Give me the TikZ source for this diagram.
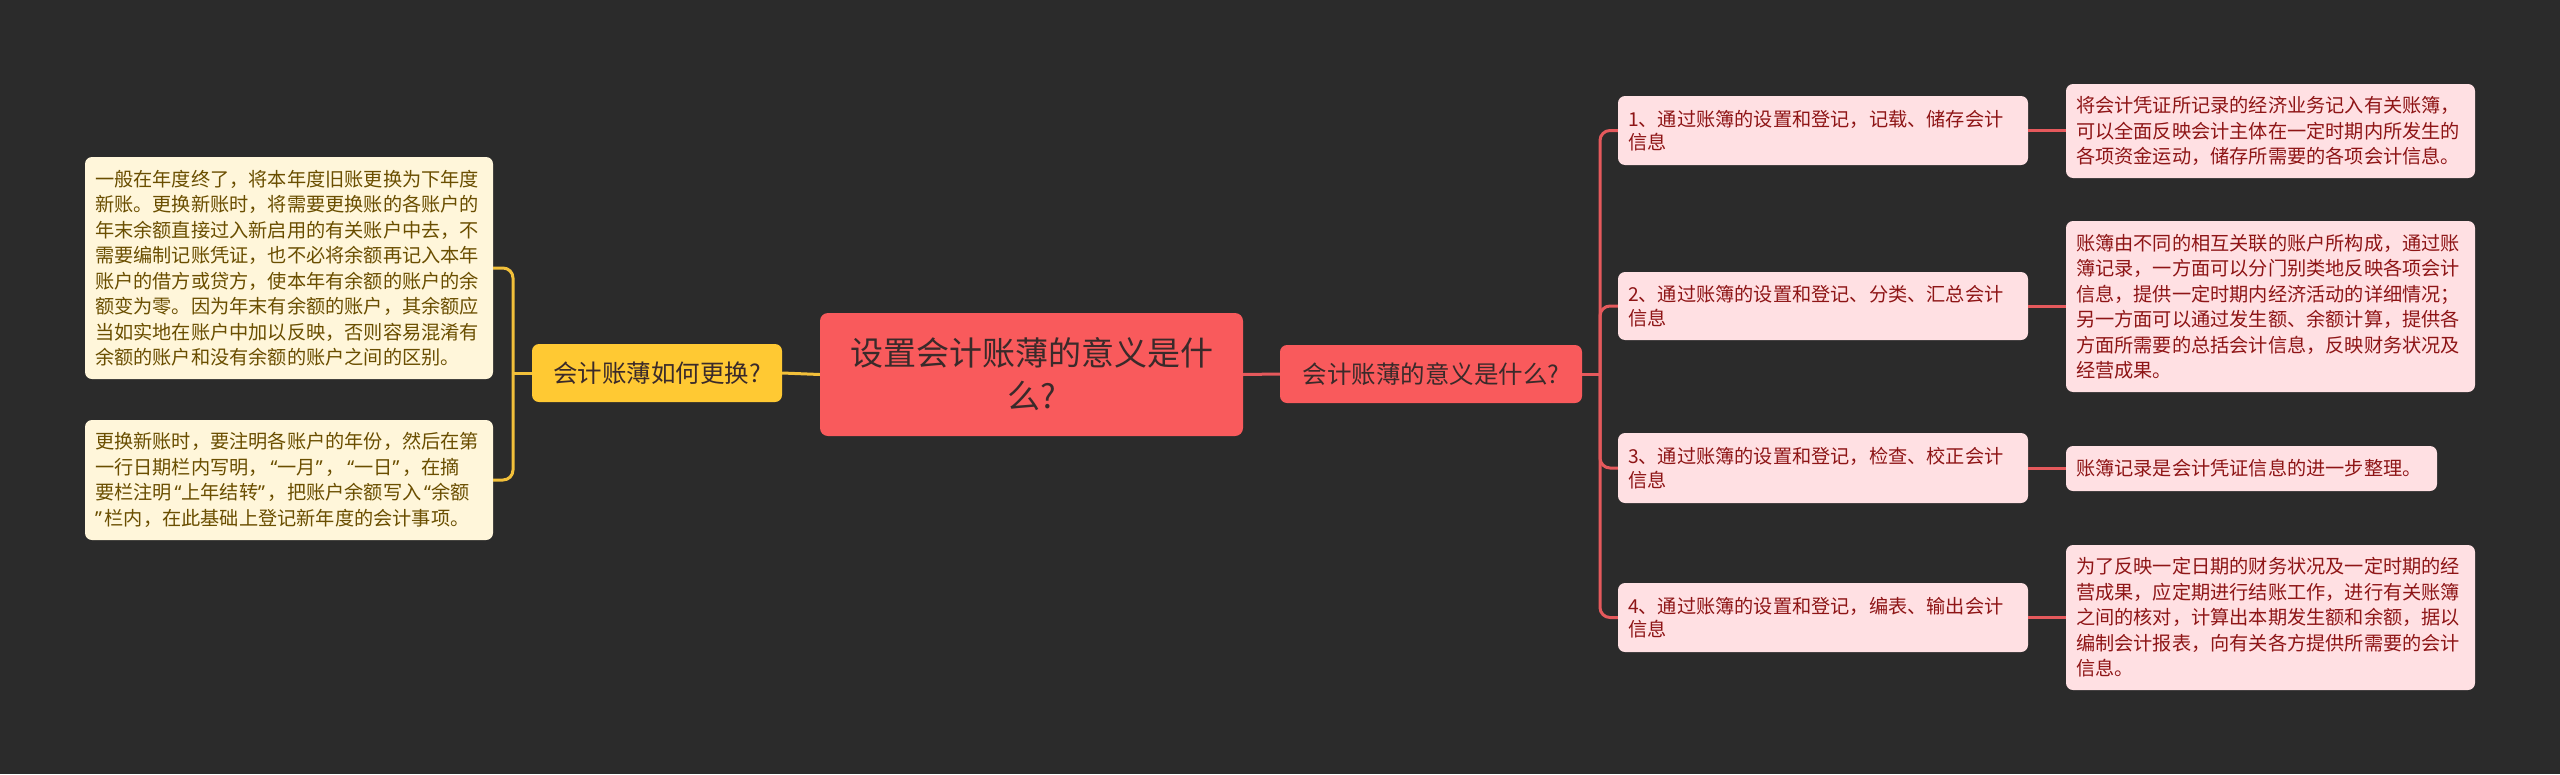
\documentclass[tikz,border=0pt]{standalone}
\usepackage{fontspec}
\setmainfont{Noto Sans CJK SC}
\newfontfamily\latinq{Noto Sans}
\newcommand\oq{\makebox[0.5em][r]{\latinq “}}
\newcommand\cq{\makebox[0.5em][l]{\latinq ”}}
\definecolor{bg}{HTML}{2B2B2B}
\definecolor{rootred}{HTML}{F95A5C}
\definecolor{linered}{HTML}{E5595C}
\definecolor{yel}{HTML}{FFC933}
\definecolor{lineyel}{HTML}{F2C03A}
\definecolor{cream}{HTML}{FFF6DA}
\definecolor{creamtext}{HTML}{6A4E00}
\definecolor{pink}{HTML}{FFE0E3}
\definecolor{pinktext}{HTML}{8E1516}
\definecolor{darktext}{HTML}{3A2A2A}
\begin{document}
\begin{tikzpicture}[x=1pt,y=-1pt,
  box/.style={rounded corners=7pt, inner xsep=10pt, inner ysep=0pt, align=left, anchor=center},
  leftbox/.style={box, fill=cream, text=creamtext, font=\fontsize{19.2}{25.5}\selectfont, text width=388pt},
  midbox/.style={box, fill=pink, text=pinktext, font=\fontsize{19.2}{23.5}\selectfont, text width=390pt},
  leafbox/.style={box, fill=pink, text=pinktext, font=\fontsize{19.2}{25.5}\selectfont, text width=389pt},
  rootbox/.style={rounded corners=8pt, fill=rootred, text=darktext, align=center, inner sep=0pt,
    font=\fontsize{33}{43}\selectfont, minimum width=423pt, minimum height=123pt},
  yelbox/.style={rounded corners=7pt, fill=yel, text=darktext, align=center, inner sep=0pt,
    font=\fontsize{24.5}{30}\selectfont, minimum width=250pt, minimum height=58pt},
  redbox/.style={rounded corners=7pt, fill=rootred, text=darktext, align=center, inner sep=0pt,
    font=\fontsize{24.5}{30}\selectfont, minimum width=302pt, minimum height=58pt},
  redline/.style={draw=linered, line width=3pt, rounded corners=10pt},
  yelline/.style={draw=lineyel, line width=3pt, rounded corners=10pt}
]
\useasboundingbox (0,0) rectangle (2560,774);
\fill[bg] (0,0) rectangle (2560,774);

\coordinate (rt) at (1600,374);
\coordinate (lt) at (513,373);

\node[rootbox] (root) at (1031.5,374.5) {设置会计账薄的意义是什\\么?};
\node[yelbox] (yq) at (657,373) {会计账薄如何更换?};
\node[redbox] (rq) at (1431,374) {会计账薄的意义是什么?};

\node[leftbox, minimum height=222pt] (l1) at (289,268) {一般在年度终了，将本年度旧账更换为下年度\\新账。更换新账时，将需要更换账的各账户的\\年末余额直接过入新启用的有关账户中去，不\\需要编制记账凭证，也不必将余额再记入本年\\账户的借方或贷方，使本年有余额的账户的余\\额变为零。因为年末有余额的账户，其余额应\\当如实地在账户中加以反映，否则容易混淆有\\余额的账户和没有余额的账户之间的区别。};
\node[leftbox, minimum height=120pt] (l2) at (289,480) {更换新账时，要注明各账户的年份，然后在第\\一行日期栏内写明，\oq 一月\cq ，\oq 一日\cq ，在摘\\要栏注明\oq 上年结转\cq ，把账户余额写入\oq 余额\\\cq 栏内，在此基础上登记新年度的会计事项。};

\node[midbox, minimum height=69pt] (n1) at (1823,130.5) {1、通过账簿的设置和登记，记载、储存会计\\信息};
\node[midbox, minimum height=68pt] (n2) at (1823,306) {2、通过账簿的设置和登记、分类、汇总会计\\信息};
\node[midbox, minimum height=70pt] (n3) at (1823,468) {3、通过账簿的设置和登记，检查、校正会计\\信息};
\node[midbox, minimum height=69pt] (n4) at (1823,617.5) {4、通过账簿的设置和登记，编表、输出会计\\信息};

\node[leafbox, minimum height=94pt] (f1) at (2270.5,131) {将会计凭证所记录的经济业务记入有关账簿，\\可以全面反映会计主体在一定时期内所发生的\\各项资金运动，储存所需要的各项会计信息。};
\node[leafbox, minimum height=171pt] (f2) at (2270.5,306.5) {账簿由不同的相互关联的账户所构成，通过账\\簿记录，一方面可以分门别类地反映各项会计\\信息，提供一定时期内经济活动的详细情况；\\另一方面可以通过发生额、余额计算，提供各\\方面所需要的总括会计信息，反映财务状况及\\经营成果。};
\node[leafbox, text width=351pt, minimum height=45pt] (f3) at (2251.5,468.5) {账簿记录是会计凭证信息的进一步整理。};
\node[leafbox, minimum height=145pt] (f4) at (2270.5,617.5) {为了反映一定日期的财务状况及一定时期的经\\营成果，应定期进行结账工作，进行有关账簿\\之间的核对，计算出本期发生额和余额，据以\\编制会计报表，向有关各方提供所需要的会计\\信息。};

% connectors
\draw[yelline] (root.west) -- (yq.east);
\draw[yelline] (yq.west) -- (lt);
\draw[yelline] (lt) |- (l1.east);
\draw[yelline] (lt) |- (l2.east);

\draw[redline] (root.east) -- (rq.west);
\draw[redline] (rq.east) -- (rt);
\draw[redline] (rt) |- (n1.west);
\draw[redline] (rt) |- (n2.west);
\draw[redline] (rt) |- (n3.west);
\draw[redline] (rt) |- (n4.west);

\draw[redline] (n1.east) -- (f1.west |- n1.east);
\draw[redline] (n2.east) -- (f2.west |- n2.east);
\draw[redline] (n3.east) -- (f3.west |- n3.east);
\draw[redline] (n4.east) -- (f4.west |- n4.east);
\end{tikzpicture}
\end{document}
